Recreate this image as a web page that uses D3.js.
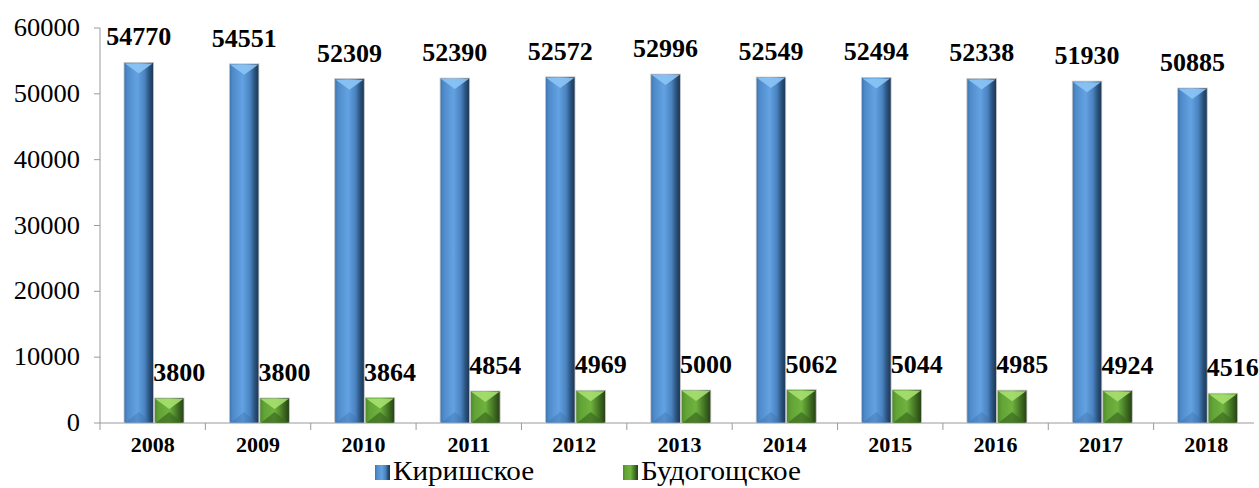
<!DOCTYPE html>
<html>
<head>
<meta charset="utf-8">
<script src="https://cdn.jsdelivr.net/npm/d3@7"></script>
<style>
    body { margin:0; background:#fff; }
    svg { display:block; }
</style>
</head>
<body>
<div id="chart"></div>
<script>
// данные
var years = ["2008","2009","2010","2011","2012","2013","2014","2015","2016","2017","2018"];
var kirishskoe = [54770,54551,52309,52390,52572,52996,52549,52494,52338,51930,50885];
var budogoshskoe = [3800,3800,3864,4854,4969,5000,5062,5044,4985,4924,4516];
var seriesNames = ["Киришское","Будогощское"];
var yTicks = [0,10000,20000,30000,40000,50000,60000];

var FONT = "Liberation Serif";
var W = 1259, H = 488;
var svg = d3.select("#chart").append("svg")
    .attr("width", W)
    .attr("height", H);

var defs = svg.append("defs");
function hgrad(id, stops) {
    var g = defs.append("linearGradient").attr("id", id)
        .attr("x1","0").attr("x2","1").attr("y1","0").attr("y2","0");
    stops.forEach(function (s) {
        g.append("stop").attr("offset", s[0]).attr("stop-color", s[1]);
    });
}
hgrad("blueBody", [[0,"#3f73ad"],[0.12,"#4f8bcb"],[0.45,"#63a2e2"],[0.7,"#4a83c0"],[0.85,"#2c5580"],[1,"#1b3450"]]);
hgrad("greenBody", [[0,"#4f8a2a"],[0.15,"#62a336"],[0.5,"#6fb33f"],[0.8,"#3f6e21"],[1,"#263f14"]]);

var x = d3.scaleBand().domain(years).range([100, 1259]).padding(0);
var xs = d3.scaleBand().domain([0,1]).range([24, 84]).paddingInner(0.03);
var y = d3.scaleLinear().domain([0, 60000]).range([423, 28]);

// текст, немного растянутый по горизонтали как в оригинале
function stretchText(sel, sx) {
    sel.attr("transform", function(){
        var t = d3.select(this);
        var tx = +t.attr("x"), ty = +t.attr("y");
        t.attr("x",0).attr("y",0);
        return "translate("+tx+","+ty+") scale("+sx+",1)";
    });
}

// оси
var axisColor = "#9a9a9a";
svg.append("line").attr("x1",100).attr("x2",100).attr("y1",y(60000)).attr("y2",y(0)+7)
    .attr("stroke",axisColor);
svg.append("line").attr("x1",100).attr("x2",1254).attr("y1",y(0)).attr("y2",y(0))
    .attr("stroke",axisColor);
svg.selectAll(".ytick").data(yTicks).enter().append("line")
    .attr("x1",94).attr("x2",100)
    .attr("y1",function(d){return y(d);}).attr("y2",function(d){return y(d);})
    .attr("stroke",axisColor);
svg.selectAll(".xtick").data(years.slice(1)).enter().append("line")
    .attr("x1",function(d){return x(d);}).attr("x2",function(d){return x(d);})
    .attr("y1",y(0)).attr("y2",y(0)+7)
    .attr("stroke",axisColor);

svg.selectAll(".ylab").data(yTicks).enter().append("text")
    .attr("x",80).attr("y",function(d){return y(d)+8;})
    .attr("text-anchor","end")
    .attr("font-family",FONT)
    .attr("font-size",25)
    .text(function(d){return d;})
    .call(stretchText, 1.06);

svg.selectAll(".xlab").data(years).enter().append("text")
    .attr("x",function(d){return x(d)+x.bandwidth()/2;})
    .attr("y",452)
    .attr("text-anchor","middle")
    .attr("font-family",FONT)
    .attr("font-size",20).attr("font-weight","bold")
    .text(function(d){return d;})
    .call(stretchText, 1.1);

// столбики со скосом
function bevelBar(g, bx, by, bw, bh, kind) {
    var b = Math.min(bw/2, bh/2, 11);
    g.append("rect").attr("x",bx).attr("y",by).attr("width",bw).attr("height",bh)
        .attr("fill", kind===0 ? "url(#blueBody)" : "url(#greenBody)")
        .attr("stroke","#c8c8c8").attr("stroke-width",0.8);
    var light = kind===0 ? "#8cc4f5" : "#a6e070";
    var dark = kind===0 ? "#3a6ea6" : "#3c6a1f";
    g.append("polygon")
        .attr("points",[[bx+1,by+1],[bx+bw-1,by+1],[bx+bw/2,by+b]].join(" "))
        .attr("fill",light).attr("opacity",0.9);
    g.append("polygon")
        .attr("points",[[bx+1,by+bh],[bx+bw-1,by+bh],[bx+bw/2,by+bh-b]].join(" "))
        .attr("fill",dark).attr("opacity",kind===0 ? 0.35 : 0.7);
}

var data = years.map(function(yr,i){ return {year:yr, vals:[kirishskoe[i], budogoshskoe[i]]}; });
var groups = svg.selectAll(".grp").data(data).enter().append("g")
    .attr("transform",function(d){return "translate("+x(d.year)+",0)";});

groups.each(function(d){
    var g = d3.select(this);
    d.vals.forEach(function(v,k){
        bevelBar(g, xs(k), y(v), xs.bandwidth(), y(0)-y(v), k);
    });
    // подписи
    d.vals.forEach(function(v,k){
        g.append("text")
            .attr("x", xs(k)+xs.bandwidth()/2 + (k===1 ? 10 : 0))
            .attr("y", y(v)-17)
            .attr("text-anchor","middle")
            .attr("font-family",FONT)
            .attr("font-size",26).attr("font-weight","bold")
            .text(v);
    });
});

// легенда
var legendX = [375, 623];
var colorsL = ["url(#blueBody)","url(#greenBody)"];
seriesNames.forEach(function(name,i){
    svg.append("rect").attr("x",legendX[i]).attr("y",465).attr("width",15).attr("height",15)
        .attr("fill",colorsL[i]);
    svg.append("text").attr("x",legendX[i]+18).attr("y",480)
        .attr("font-family",FONT)
        .attr("font-size",27)
        .text(name)
        .call(stretchText, 1.08);
});
</script>
</body>
</html>
